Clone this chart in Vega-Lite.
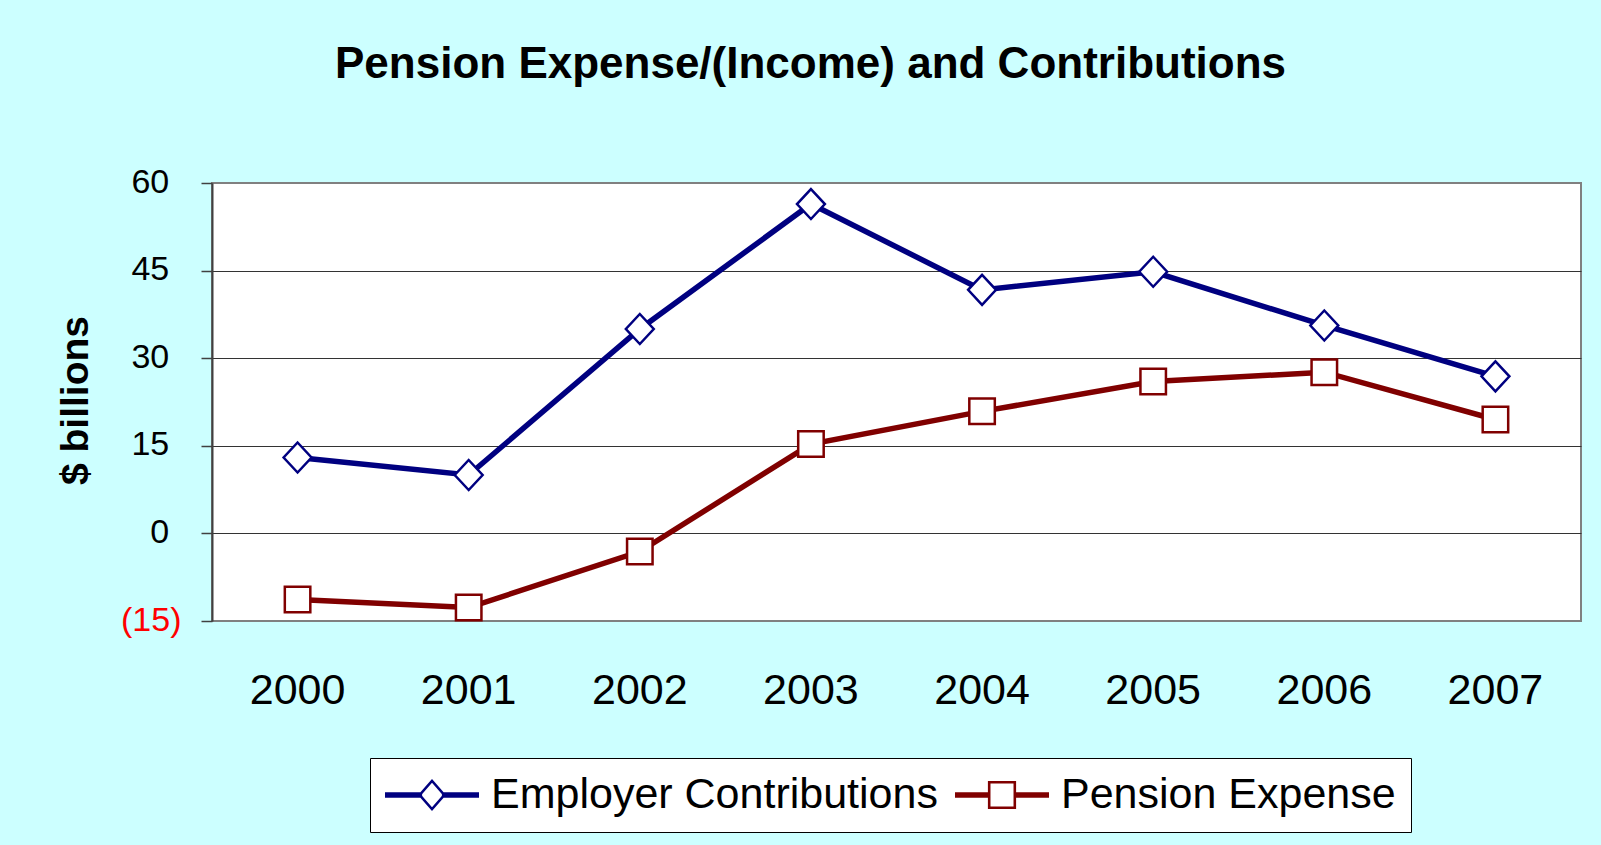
{
  "$schema": "https://vega.github.io/schema/vega-lite/v6.json",
  "autosize": "none",
  "width": 1369,
  "height": 438,
  "padding": {"left": 212, "top": 183, "right": 20, "bottom": 224},
  "background": "#CCFFFF",
  "title": {
    "text": "Pension Expense/(Income) and Contributions",
    "font": "Liberation Sans",
    "fontSize": 44,
    "fontWeight": "bold",
    "color": "black",
    "anchor": "middle",
    "frame": "group",
    "dx": -86,
    "baseline": "alphabetic",
    "offset": 43
  },
  "data": {
    "values": [
      {"year": "2000", "series": "Employer Contributions", "value": 13.0},
      {"year": "2001", "series": "Employer Contributions", "value": 10.0},
      {"year": "2002", "series": "Employer Contributions", "value": 35.0},
      {"year": "2003", "series": "Employer Contributions", "value": 56.4},
      {"year": "2004", "series": "Employer Contributions", "value": 41.7},
      {"year": "2005", "series": "Employer Contributions", "value": 44.8},
      {"year": "2006", "series": "Employer Contributions", "value": 35.6},
      {"year": "2007", "series": "Employer Contributions", "value": 26.9},
      {"year": "2000", "series": "Pension Expense", "value": -11.3},
      {"year": "2001", "series": "Pension Expense", "value": -12.7},
      {"year": "2002", "series": "Pension Expense", "value": -3.1},
      {"year": "2003", "series": "Pension Expense", "value": 15.3},
      {"year": "2004", "series": "Pension Expense", "value": 20.9},
      {"year": "2005", "series": "Pension Expense", "value": 26.0},
      {"year": "2006", "series": "Pension Expense", "value": 27.6},
      {"year": "2007", "series": "Pension Expense", "value": 19.5}
    ]
  },
  "encoding": {
    "x": {
      "field": "year",
      "type": "ordinal",
      "scale": {"type": "band", "paddingInner": 0, "paddingOuter": 0},
      "axis": {
        "title": null,
        "labelFont": "Liberation Sans",
        "labelFontSize": 43,
        "labelColor": "black",
        "labelAngle": 0,
        "ticks": false,
        "tickSize": 0,
        "domain": false,
        "grid": false,
        "labelPadding": 82,
        "labelBaseline": "alphabetic"
      }
    },
    "y": {
      "field": "value",
      "type": "quantitative",
      "scale": {"domain": [-15, 60], "nice": false, "zero": false},
      "axis": {
        "title": "$ billions",
        "titleFont": "Liberation Sans",
        "titleFontSize": 39,
        "titleFontWeight": "bold",
        "titleColor": "black",
        "titleAngle": 270,
        "titleAlign": "center",
        "titleBaseline": "alphabetic",
        "titleX": -125,
        "titleY": 217,
        "values": [-15, 0, 15, 30, 45, 60],
        "labelExpr": "datum.value < 0 ? '(' + abs(datum.value) + ')' : datum.value + '\u200A\u00A0\u200B'",
        "labelFont": "Liberation Sans",
        "labelFontSize": 34,
        "labelColor": {"condition": {"test": "datum.value < 0", "value": "#FF0000"}, "value": "black"},
        "labelBaseline": "alphabetic",
        "labelOffset": 9,
        "labelPadding": 20,
        "tickSize": 11,
        "tickColor": "#404040",
        "tickWidth": 1.5,
        "domainColor": "#404040",
        "domainWidth": 2,
        "grid": true,
        "gridColor": {"condition": {"test": "datum.value == 60 || datum.value == -15", "value": "#808080"}, "value": "#333333"},
        "gridWidth": 1
      }
    }
  },
  "layer": [
    {
      "mark": {"type": "line", "strokeWidth": 5.5},
      "encoding": {
        "detail": {"field": "series", "type": "nominal"},
        "color": {
          "condition": {"test": "datum.series === 'Pension Expense'", "value": "#800000"},
          "value": "#000080"
        }
      }
    },
    {
      "mark": {"type": "point", "filled": false, "fill": "white", "strokeWidth": 2.5, "size": 900, "opacity": 1},
      "encoding": {
        "color": {
          "condition": {"test": "datum.series === 'Pension Expense'", "value": "#800000"},
          "value": "#000080"
        },
        "shape": {
          "condition": {"test": "datum.series === 'Pension Expense'", "value": "M-0.85,-0.85H0.85V0.85H-0.85Z"},
          "value": "M0,-1L0.93,0L0,1L-0.93,0Z"
        }
      }
    },
    {
      "transform": [{"filter": "false"}],
      "mark": {"type": "point", "filled": true, "size": 8836, "opacity": 1, "strokeWidth": 0},
      "encoding": {
        "color": {
          "field": "series",
          "type": "nominal",
          "scale": {"domain": ["Employer Contributions", "Pension Expense"], "range": ["#000080", "#800000"]},
          "legend": {
            "title": null,
            "orient": "none",
            "legendX": 158,
            "legendY": 575,
            "direction": "horizontal",
            "labelFont": "Liberation Sans",
            "labelFontSize": 43,
            "labelColor": "black",
            "labelLimit": 1000,
            "labelOffset": 12,
            "columnPadding": 17,
            "padding": 15,
            "clipHeight": 44,
            "symbolSize": 8836,
            "symbolStrokeWidth": 0,
            "symbolOpacity": 1,
            "strokeColor": "black",
            "fillColor": "white"
          }
        },
        "shape": {
          "field": "series",
          "type": "nominal",
          "scale": {
            "domain": ["Employer Contributions", "Pension Expense"],
            "range": [
              "M-1,-0.06H-0.21V0.06H-1Z M0.21,-0.06H1V0.06H0.21Z M0,-0.34L0.298,0L0,0.34L-0.298,0Z M0,-0.26L-0.227,0L0,0.26L0.227,0Z",
              "M-1,-0.06H-0.27V0.06H-1Z M0.27,-0.06H1V0.06H0.27Z M-0.3,-0.3H0.3V0.3H-0.3Z M-0.245,-0.245V0.245H0.245V-0.245Z"
            ]
          }
        }
      }
    }
  ],
  "config": {
    "font": "Liberation Sans",
    "view": {"stroke": "#808080", "strokeWidth": 2, "fill": "white"}
  }
}
